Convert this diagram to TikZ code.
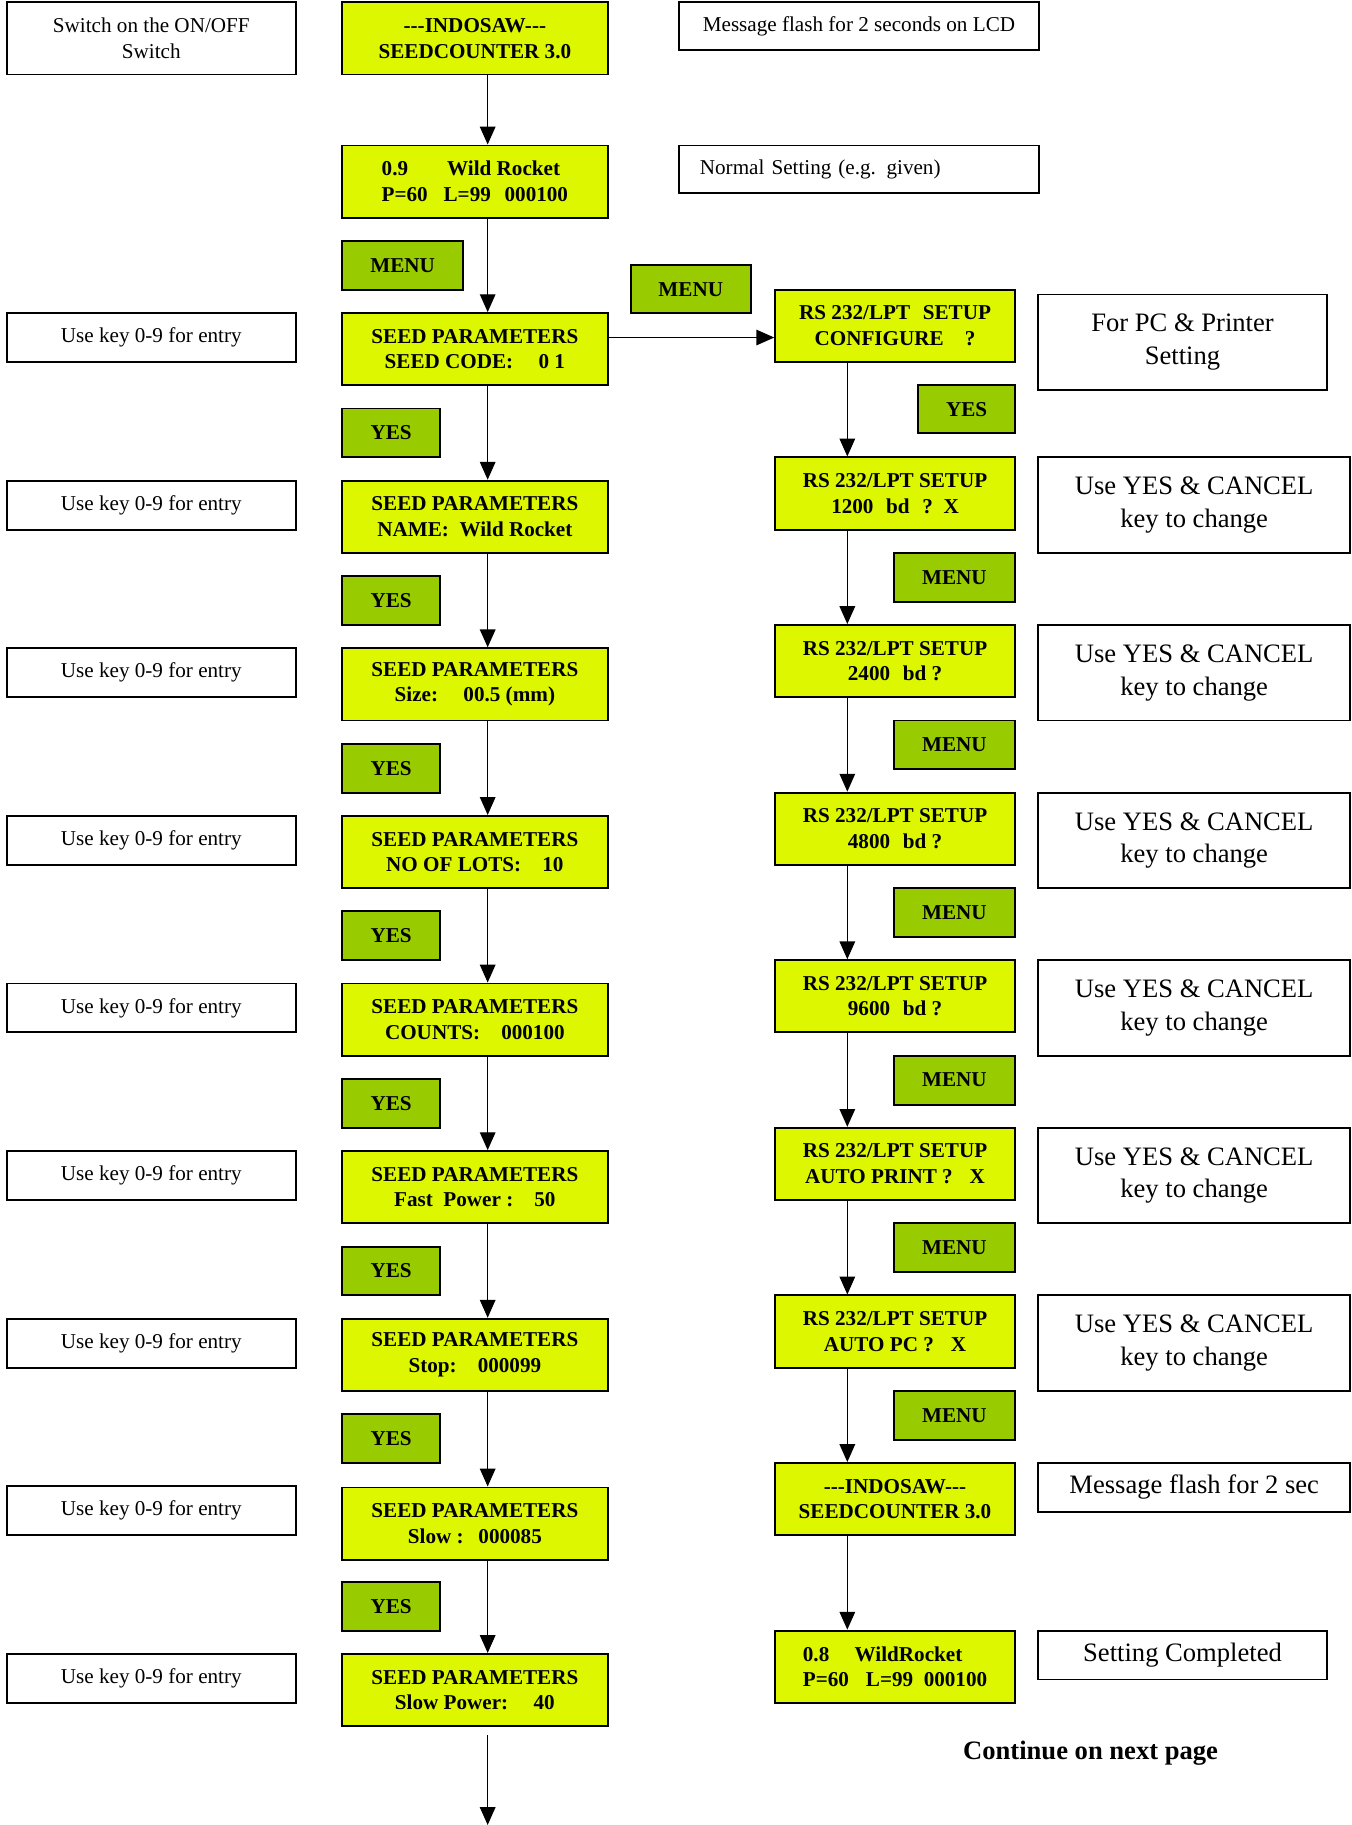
\documentclass[tikz,border=0pt]{standalone}
\usepackage{fontspec}
\setmainfont{Liberation Serif}
\usetikzlibrary{arrows.meta,calc,positioning}
\definecolor{lcdyellow}{HTML}{DDF700}
\definecolor{keygreen}{HTML}{99CC00}

\begin{document}
\begin{tikzpicture}[>={Triangle[length=4.6mm,width=4mm]},x=0.03cm,y=-0.03cm]
    \tikzstyle{lcd}=[draw,line width=1.4pt,fill=lcdyellow,inner sep=0pt,minimum height=1.86cm,align=center,font=\fontsize{15.5}{18.8}\selectfont\bfseries]
    \tikzstyle{lcdA}=[lcd,minimum width=6.84cm]
    \tikzstyle{lcdB}=[lcd,minimum width=6.18cm]
    \tikzstyle{note}=[draw,line width=1.4pt,inner sep=0pt,minimum width=7.44cm,minimum height=1.26cm,align=center,font=\fontsize{15.5}{18.8}\selectfont]
    \tikzstyle{bignote}=[draw,line width=1.4pt,inner sep=0pt,minimum height=2.46cm,align=center,font=\fontsize{19.5}{23.9}\selectfont]
    \tikzstyle{key}=[draw,line width=1.4pt,fill=keygreen,inner sep=0pt,minimum height=1.26cm,font=\fontsize{15.5}{18.8}\selectfont\bfseries]
    \tikzstyle{flow}=[line width=1pt,->]
    \useasboundingbox (0,0) rectangle (1161,1568);
    \coordinate (colA) at (419,0);
    \coordinate (colB) at (728,0);
    \coordinate (hrow) at (0,290);
    \coordinate (cont) at (419,1568);
    % left notes
    \node[note,minimum height=1.86cm] (swi) at (130,33) {Switch on the ON/OFF\\Switch};
    \node[note] (use1) at (130,290) {Use key 0-9 for entry};
    \node[note] (use2) at (130,434) {Use key 0-9 for entry};
    \node[note] (use3) at (130,578) {Use key 0-9 for entry};
    \node[note] (use4) at (130,722) {Use key 0-9 for entry};
    \node[note] (use5) at (130,866) {Use key 0-9 for entry};
    \node[note] (use6) at (130,1010) {Use key 0-9 for entry};
    \node[note] (use7) at (130,1154) {Use key 0-9 for entry};
    \node[note] (use8) at (130,1298) {Use key 0-9 for entry};
    \node[note] (use9) at (130,1442) {Use key 0-9 for entry};
    % main column
    \node[lcdA] (disp1) at (408,33) {{-}{-}{-}INDOSAW{-}{-}{-}\\SEEDCOUNTER 3.0};
    \node[lcdA,align=left] (disp2) at (408,156) {0.9\hspace{1.85em}Wild Rocket\\P=60\hspace{0.75em}L=99\hspace{0.65em}000100};
    \node[lcdA] (par1) at (408,300) {SEED PARAMETERS\\SEED CODE:\hspace{1.2em}0 1};
    \node[lcdA] (par2) at (408,444) {SEED PARAMETERS\\NAME:\hspace{0.5em}Wild Rocket};
    \node[lcdA] (par3) at (408,588) {SEED PARAMETERS\\Size:\hspace{1.2em}00.5 (mm)};
    \node[lcdA] (par4) at (408,732) {SEED PARAMETERS\\NO OF LOTS:\hspace{1em}10};
    \node[lcdA] (par5) at (408,876) {SEED PARAMETERS\\COUNTS:\hspace{1em}000100};
    \node[lcdA] (par6) at (408,1020) {SEED PARAMETERS\\Fast\hspace{0.5em}Power :\hspace{1em}50};
    \node[lcdA] (par7) at (408,1164) {SEED PARAMETERS\\Stop:\hspace{1em}000099};
    \node[lcdA] (par8) at (408,1309) {SEED PARAMETERS\\Slow :\hspace{0.7em}000085};
    \node[lcdA] (par9) at (408,1452) {SEED PARAMETERS\\Slow Power:\hspace{1.2em}40};
    % keys on the main column
    \node[key,minimum width=3.12cm] (menuA) at (346,228) {MENU};
    \node[key,minimum width=2.52cm] (yes1) at (336,372) {YES};
    \node[key,minimum width=2.52cm] (yes2) at (336,516) {YES};
    \node[key,minimum width=2.52cm] (yes3) at (336,660) {YES};
    \node[key,minimum width=2.52cm] (yes4) at (336,804) {YES};
    \node[key,minimum width=2.52cm] (yes5) at (336,948) {YES};
    \node[key,minimum width=2.52cm] (yes6) at (336,1092) {YES};
    \node[key,minimum width=2.52cm] (yes7) at (336,1236) {YES};
    \node[key,minimum width=2.52cm] (yes8) at (336,1380) {YES};
    % top notes
    \node[note,minimum width=9.3cm,minimum height=1.23cm] (flash) at (738,22.5) {Message flash for 2 seconds on LCD};
    \node[note,minimum width=9.3cm,minimum height=1.23cm,align=left,text width=8.2cm] (normal) at (738,145.5) {Normal Setting (e.g. given)};
    \node[key,minimum width=3.09cm,minimum height=1.23cm] (menuB) at (593.5,248.5) {MENU};
    % right column
    \node[lcdB] (rs1) at (769,280) {RS 232/LPT\hspace{0.6em}SETUP\\CONFIGURE\hspace{1em}?};
    \node[lcdB] (rs2) at (769,424) {RS 232/LPT SETUP\\1200\hspace{0.6em}bd\hspace{0.6em}?\hspace{0.5em}X};
    \node[lcdB] (rs3) at (769,568) {RS 232/LPT SETUP\\2400\hspace{0.6em}bd ?};
    \node[lcdB] (rs4) at (769,712) {RS 232/LPT SETUP\\4800\hspace{0.6em}bd ?};
    \node[lcdB] (rs5) at (769,856) {RS 232/LPT SETUP\\9600\hspace{0.6em}bd ?};
    \node[lcdB] (rs6) at (769,1000) {RS 232/LPT SETUP\\AUTO PRINT ?\hspace{0.8em}X};
    \node[lcdB] (rs7) at (769,1144) {RS 232/LPT SETUP\\AUTO PC ?\hspace{0.8em}X};
    \node[lcdB] (disp3) at (769,1288) {{-}{-}{-}INDOSAW{-}{-}{-}\\SEEDCOUNTER 3.0};
    \node[lcdB,align=left] (disp4) at (769,1432) {0.8\hspace{1.2em}WildRocket\\P=60\hspace{0.8em}L=99\hspace{0.5em}000100};
    % keys on the right column
    \node[key,minimum width=2.49cm,minimum height=1.23cm] (yesB) at (830.5,351.5) {YES};
    \node[key,minimum width=3.12cm] (menu1) at (820,496) {MENU};
    \node[key,minimum width=3.12cm] (menu2) at (820,640) {MENU};
    \node[key,minimum width=3.12cm] (menu3) at (820,784) {MENU};
    \node[key,minimum width=3.12cm] (menu4) at (820,928) {MENU};
    \node[key,minimum width=3.12cm] (menu5) at (820,1072) {MENU};
    \node[key,minimum width=3.12cm] (menu6) at (820,1216) {MENU};
    % right notes
    \node[bignote,minimum width=7.44cm] (pcset) at (1016,294) {For PC \& Printer\\Setting};
    \node[bignote,minimum width=8.04cm] (chg1) at (1026,434) {Use YES \& CANCEL\\key to change};
    \node[bignote,minimum width=8.04cm] (chg2) at (1026,578) {Use YES \& CANCEL\\key to change};
    \node[bignote,minimum width=8.04cm] (chg3) at (1026,722) {Use YES \& CANCEL\\key to change};
    \node[bignote,minimum width=8.04cm] (chg4) at (1026,866) {Use YES \& CANCEL\\key to change};
    \node[bignote,minimum width=8.04cm] (chg5) at (1026,1010) {Use YES \& CANCEL\\key to change};
    \node[bignote,minimum width=8.04cm] (chg6) at (1026,1154) {Use YES \& CANCEL\\key to change};
    \node[bignote,minimum width=8.04cm,minimum height=1.26cm] (flash2) at (1026,1278) {Message flash for 2 sec};
    \node[bignote,minimum width=7.44cm,minimum height=1.26cm] (done) at (1016,1422) {Setting Completed};
    \node[font=\fontsize{19.5}{23.9}\selectfont\bfseries] (next) at (937,1506) {Continue on next page};
    % arrows, main column
    \draw[flow] (disp1.south -| colA) -- (disp2.north -| colA);
    \draw[flow] (disp2.south -| colA) -- (par1.north -| colA);
    \draw[flow] (par1.south -| colA) -- (par2.north -| colA);
    \draw[flow] (par2.south -| colA) -- (par3.north -| colA);
    \draw[flow] (par3.south -| colA) -- (par4.north -| colA);
    \draw[flow] (par4.south -| colA) -- (par5.north -| colA);
    \draw[flow] (par5.south -| colA) -- (par6.north -| colA);
    \draw[flow] (par6.south -| colA) -- (par7.north -| colA);
    \draw[flow] (par7.south -| colA) -- (par8.north -| colA);
    \draw[flow] (par8.south -| colA) -- (par9.north -| colA);
    \draw[flow] ($(par9.south -| colA)+(0,7)$) -- (cont);
    % arrows, right column
    \draw[flow] (par1.east |- hrow) -- (rs1.west |- hrow);
    \draw[flow] (rs1.south -| colB) -- (rs2.north -| colB);
    \draw[flow] (rs2.south -| colB) -- (rs3.north -| colB);
    \draw[flow] (rs3.south -| colB) -- (rs4.north -| colB);
    \draw[flow] (rs4.south -| colB) -- (rs5.north -| colB);
    \draw[flow] (rs5.south -| colB) -- (rs6.north -| colB);
    \draw[flow] (rs6.south -| colB) -- (rs7.north -| colB);
    \draw[flow] (rs7.south -| colB) -- (disp3.north -| colB);
    \draw[flow] (disp3.south -| colB) -- (disp4.north -| colB);
\end{tikzpicture}
\end{document}
